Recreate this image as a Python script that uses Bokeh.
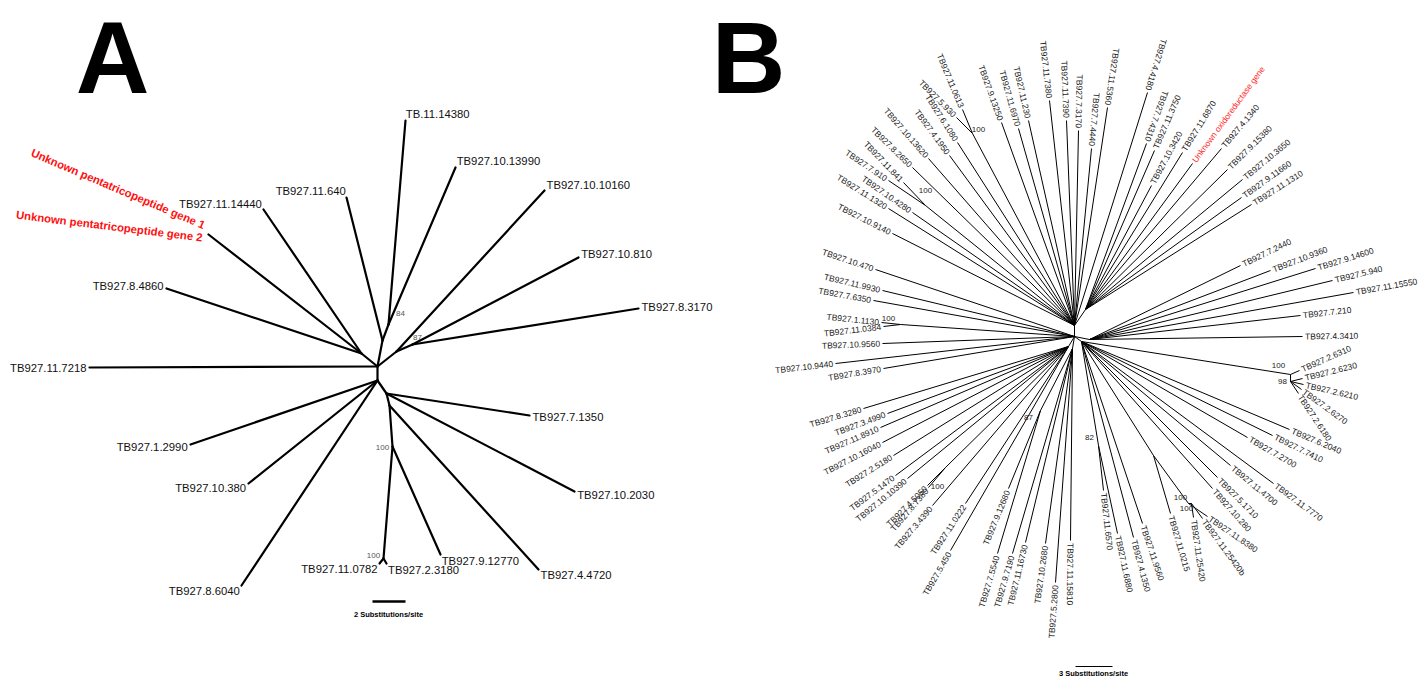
import math
from bokeh.plotting import figure
from bokeh.models import ColumnDataSource, Range1d
from bokeh.embed import file_html
from bokeh.resources import INLINE
from bokeh.core.properties import value

# ================= Panel A : tree layout (reference pixel space) =================
A_node_id = ["C0", "Aup", "N84", "Ar", "N87", "Al", "C1", "C2", "C3", "N100a", "N100b"]
A_node_x = [377, 382, 388, 396, 412, 361, 377, 386, 389, 392, 383]
A_node_y = [366, 340, 324, 351, 344, 353, 380, 393, 405, 446, 558]
A_node_parent = [None, "C0", "Aup", "C0", "Ar", "C0", "C0", "C1", "C2", "C3", "N100a"]

A_leaf_name = ["TB.11.14380", "TB927.10.13990", "TB927.11.640", "TB927.10.10160",
               "TB927.10.810", "TB927.8.3170", "TB927.11.14440",
               "Unknown pentatricopeptide gene 1", "Unknown pentatricopeptide gene 2",
               "TB927.8.4860", "TB927.11.7218", "TB927.1.2990", "TB927.10.380",
               "TB927.8.6040", "TB927.7.1350", "TB927.10.2030", "TB927.4.4720",
               "TB927.9.12770", "TB927.11.0782", "TB927.2.3180"]
A_leaf_x = [405, 455, 346, 544, 578, 638, 263, 208, 208, 166, 89, 190, 248, 241,
            529, 574, 538, 440, 379, 386]
A_leaf_y = [120, 167, 197, 190, 257, 308, 209, 234, 234, 288, 367, 444, 483, 585,
            415, 491, 569, 554, 563, 563]
A_leaf_parent = ["N84", "N84", "Aup", "Ar", "N87", "N87", "Al", "Al", "Al", "Al", "C0",
                 "C1", "C1", "C1", "C2", "C2", "C3", "N100a", "N100b", "N100b"]
A_highlight = ["Unknown pentatricopeptide gene 1", "Unknown pentatricopeptide gene 2"]

A_support_text = ["84", "87", "100", "100"]
A_support_x = [400, 417, 382, 373]
A_support_y = [313, 337, 447, 555]

# ================= Panel B : tree layout =================
B_node_id = ["NU", "ND", "NUR", "NR", "NBR", "NBL", "NB", "P0613", "P841", "P1130",
             "P5050", "P87", "P82", "Q0215", "P100a", "P100b", "P26", "P98"]
B_node_x = [1074, 1074, 1085, 1089, 1081, 1068, 1072, 972, 925, 900,
            945, 1040, 1098, 1153, 1188, 1191, 1290, 1290]
B_node_y = [325, 336, 309, 339, 341, 346, 348, 133, 205, 324,
            467, 410, 445, 455, 503, 503, 374, 381]
B_node_parent = [None, "NU", "NU", "ND", "ND", "ND", "ND", "NU", "NU", "ND",
                 "NBL", "NB", "NBR", "NBR", "Q0215", "P100a", "NBR", "P26"]

B_leaf_name = [
    "TB927.11.0613", "TB927.5.930", "TB927.6.1080", "TB927.4.1950", "TB927.10.13620",
    "TB927.8.2650", "TB927.11.841", "TB927.7.910", "TB927.10.4280", "TB927.11.1320",
    "TB927.10.9140", "TB927.9.13250", "TB927.11.6970", "TB927.11.230", "TB927.11.7380",
    "TB927.11.7390", "TB927.7.3170", "TB927.7.4440", "TB927.11.5360", "TB927.4.4180",
    "TB927.7.4310", "TB927.11.3750", "TB927.10.3420", "TB927.11.6870",
    "Unknown oxidoreductase gene", "TB927.4.1340", "TB927.9.15380", "TB927.10.3650",
    "TB927.9.11660", "TB927.11.1310",
    "TB927.7.2440", "TB927.10.9360", "TB927.9.14600", "TB927.5.940", "TB927.11.15550",
    "TB927.7.210", "TB927.4.3410",
    "TB927.2.6310", "TB927.2.6230", "TB927.2.6210", "TB927.2.6270", "TB927.2.6180",
    "TB927.6.2040", "TB927.7.7410", "TB927.7.2700", "TB927.11.7770", "TB927.11.4700",
    "TB927.5.1710", "TB927.10.280", "TB927.11.8380", "TB927.11.25420b", "TB927.11.25420",
    "TB927.11.0215", "TB927.11.9560", "TB927.4.1350", "TB927.11.6880", "TB927.11.6570",
    "TB927.11.15810", "TB927.5.2800", "TB927.10.2680", "TB927.11.16730", "TB927.9.7190",
    "TB927.7.5540", "TB927.9.12680",
    "TB927.5.450", "TB927.11.0222", "TB927.3.4390", "TB927.8.7380", "TB927.4.5050",
    "TB927.10.10390", "TB927.5.1470", "TB927.2.5180", "TB927.10.16040", "TB927.11.8910",
    "TB927.3.4990", "TB927.8.3280",
    "TB927.8.3970", "TB927.10.9440", "TB927.10.9560", "TB927.11.0384", "TB927.1.1130",
    "TB927.7.6350", "TB927.11.9930", "TB927.10.470"]
B_leaf_x = [
    962, 956, 957, 949, 928, 912, 903, 888, 912, 888,
    892, 1001, 1018, 1028, 1049, 1066, 1078, 1091, 1107, 1147,
    1146, 1154, 1151, 1182, 1192, 1221, 1227, 1242, 1241, 1251,
    1240, 1270, 1315, 1332, 1353, 1300, 1302,
    1299, 1302, 1303, 1301, 1298,
    1289, 1272, 1247, 1273, 1230, 1217, 1212, 1207, 1202, 1193,
    1170, 1142, 1133, 1117, 1103,
    1070, 1055, 1045, 1025, 1012, 997, 1008,
    950, 965, 932, 928, 927, 907, 895, 893, 882, 880, 887, 863,
    883, 835, 882, 883, 881, 873, 882, 875]
B_leaf_y = [
    109, 117, 142, 155, 158, 167, 182, 180, 212, 208,
    233, 122, 128, 120, 100, 120, 130, 148, 107, 92,
    143, 150, 185, 152, 163, 148, 169, 179, 197, 204,
    265, 270, 268, 280, 292, 315, 336,
    370, 378, 384, 389, 393,
    429, 435, 437, 483, 465, 477, 488, 516, 518, 517,
    513, 523, 537, 533, 490,
    540, 582, 543, 542, 553, 553, 488,
    550, 503, 505, 487, 485, 478, 475, 455, 442, 427, 413, 408,
    368, 363, 343, 326, 322, 300, 290, 269]
B_leaf_parent = (
    ["P0613", "P0613", "NU", "NU", "NU", "NU", "P841", "P841", "NU", "NU",
     "NU", "NU", "NU", "NU", "NU", "NU", "NU", "NU", "NU", "NU"]
    + ["NUR"] * 10
    + ["NR"] * 7
    + ["P26", "P98", "P98", "P98", "P98"]
    + ["NBR"] * 7 + ["P100a", "P100b", "P100b"]
    + ["Q0215", "NBR", "NBR", "P82", "P82"]
    + ["NB", "NB", "NB", "NB", "NB", "P87", "P87"]
    + ["NBL", "NBL", "NBL", "P5050", "P5050", "NBL", "NBL", "NBL", "NBL", "NBL", "NBL", "NBL"]
    + ["ND", "ND", "ND", "P1130", "P1130", "ND", "ND", "ND"])
B_highlight = ["Unknown oxidoreductase gene"]

B_support_text = ["100", "100", "100", "100", "87", "82", "100", "100", "100", "98"]
B_support_x = [978, 925, 888, 937, 1028, 1089, 1180, 1186, 1278, 1282]
B_support_y = [129, 190, 318, 486, 417, 437, 497, 508, 365, 381]

# panel letters and scale bars
PANEL_LETTERS = ["A", "B"]
SCALE_TEXT = ["2 Substitutions/site", "3 Substitutions/site"]

FONT = "Liberation Sans"
W, H = 1421, 677

p = figure(width=W, height=H, x_range=Range1d(0, W), y_range=Range1d(H, 0),
           output_backend="svg", toolbar_location=None, x_axis_type=None, y_axis_type=None,
           min_border=0, min_border_left=0, min_border_right=0, min_border_top=0,
           min_border_bottom=0)
p.outline_line_color = None
p.grid.visible = False
p.background_fill_color = "white"
p.border_fill_color = "white"


def edges(node_id, nx, ny, npar, lname, lx, ly, lpar):
    pos = {n: (x, y) for n, x, y in zip(node_id, nx, ny)}
    x0, y0, x1, y1 = [], [], [], []
    for n, par in zip(node_id, npar):
        if par is None:
            continue
        x0.append(pos[par][0]); y0.append(pos[par][1])
        x1.append(pos[n][0]); y1.append(pos[n][1])
    seen = set()
    for n, x, y, par in zip(lname, lx, ly, lpar):
        key = (x, y, par)
        if key in seen:
            continue
        seen.add(key)
        x0.append(pos[par][0]); y0.append(pos[par][1])
        x1.append(x); y1.append(y)
    return dict(x0=x0, y0=y0, x1=x1, y1=y1), pos


# ---------------- Panel A ----------------
segA, posA = edges(A_node_id, A_node_x, A_node_y, A_node_parent,
                   A_leaf_name, A_leaf_x, A_leaf_y, A_leaf_parent)
p.segment(x0="x0", y0="y0", x1="x1", y1="y1", source=ColumnDataSource(segA),
          line_color="black", line_width=2.2, line_cap="round")

la = dict(x=[], y=[], t=[])
ra = dict(x=[], y=[], t=[])
for n, x, y, par in zip(A_leaf_name, A_leaf_x, A_leaf_y, A_leaf_parent):
    if n in A_highlight:
        continue
    px, py = posA[par]
    th = math.atan2(-(y - py), x - px)
    ax = x + 3 * math.cos(th)
    ay = y - 7 * math.sin(th)
    d = la if math.cos(th) >= 0 else ra
    d["x"].append(ax); d["y"].append(ay); d["t"].append(n)
p.text(x="x", y="y", text="t", source=ColumnDataSource(la), text_font=value(FONT),
       text_font_size="11.3px", text_align="left", text_baseline="middle", text_color="#111111")
p.text(x="x", y="y", text="t", source=ColumnDataSource(ra), text_font=value(FONT),
       text_font_size="11.3px", text_align="right", text_baseline="middle", text_color="#111111")

# highlighted (red, bold) labels sharing one tip
gi = A_leaf_name.index(A_highlight[0])
gx, gy = A_leaf_x[gi], A_leaf_y[gi]
red = dict(x=[gx - 4, gx - 6], y=[gy - 9, gy + 3], t=A_highlight,
           a=[math.radians(-23), math.radians(-7)])
p.text(x="x", y="y", text="t", angle="a", source=ColumnDataSource(red),
       text_font=value(FONT), text_font_style="bold", text_font_size="11.3px",
       text_align="right", text_baseline="middle", text_color="#ff1010")

p.text(x="x", y="y", text="t",
       source=ColumnDataSource(dict(x=A_support_x, y=A_support_y, t=A_support_text)),
       text_font=value(FONT), text_font_size="8px", text_align="center",
       text_baseline="middle", text_color="#555555")

# ---------------- Panel B ----------------
segB, posB = edges(B_node_id, B_node_x, B_node_y, B_node_parent,
                   B_leaf_name, B_leaf_x, B_leaf_y, B_leaf_parent)
p.segment(x0="x0", y0="y0", x1="x1", y1="y1", source=ColumnDataSource(segB),
          line_color="black", line_width=1.0)

outw = dict(x=[], y=[], t=[], a=[], c=[])
flip = dict(x=[], y=[], t=[], a=[], c=[])
for n, x, y, par in zip(B_leaf_name, B_leaf_x, B_leaf_y, B_leaf_parent):
    px, py = posB[par]
    th = math.atan2(-(y - py), x - px)
    ax = x + 2.5 * math.cos(th)
    ay = y - 2.5 * math.sin(th)
    col = "#ff2a2a" if n in B_highlight else "#1a1a1a"
    deg = math.degrees(th)
    if -92 < deg < 68:
        d, ang = outw, th
    else:
        d, ang = flip, (th - math.pi if th > 0 else th + math.pi)
    d["x"].append(ax); d["y"].append(ay); d["t"].append(n); d["a"].append(ang); d["c"].append(col)
p.text(x="x", y="y", text="t", angle="a", text_color="c", source=ColumnDataSource(outw),
       text_font=value(FONT), text_font_size="8.5px", text_align="left", text_baseline="middle")
p.text(x="x", y="y", text="t", angle="a", text_color="c", source=ColumnDataSource(flip),
       text_font=value(FONT), text_font_size="8.5px", text_align="right", text_baseline="middle")

p.text(x="x", y="y", text="t",
       source=ColumnDataSource(dict(x=B_support_x, y=B_support_y, t=B_support_text)),
       text_font=value(FONT), text_font_size="8px", text_align="center",
       text_baseline="middle", text_color="#222222")

# ---------------- scale bars ----------------
p.segment(x0=[372], y0=[601], x1=[405], y1=[601], line_color="black", line_width=2.5)
p.segment(x0=[1075], y0=[666], x1=[1112], y1=[666], line_color="black", line_width=1)
p.text(x=[388, 1093], y=[614, 673], text=SCALE_TEXT, text_font=value(FONT),
       text_font_style="bold", text_font_size="7.5px", text_align="center",
       text_baseline="middle", text_color="black")

# ---------------- panel letters ----------------
p.text(x=[112, 748], y=[0, 0], text=PANEL_LETTERS, text_font=value(FONT),
       text_font_style="bold", text_font_size="102px", text_align="center",
       text_baseline="top", text_color="black")

open("out.html", "w").write(file_html(p, INLINE))
